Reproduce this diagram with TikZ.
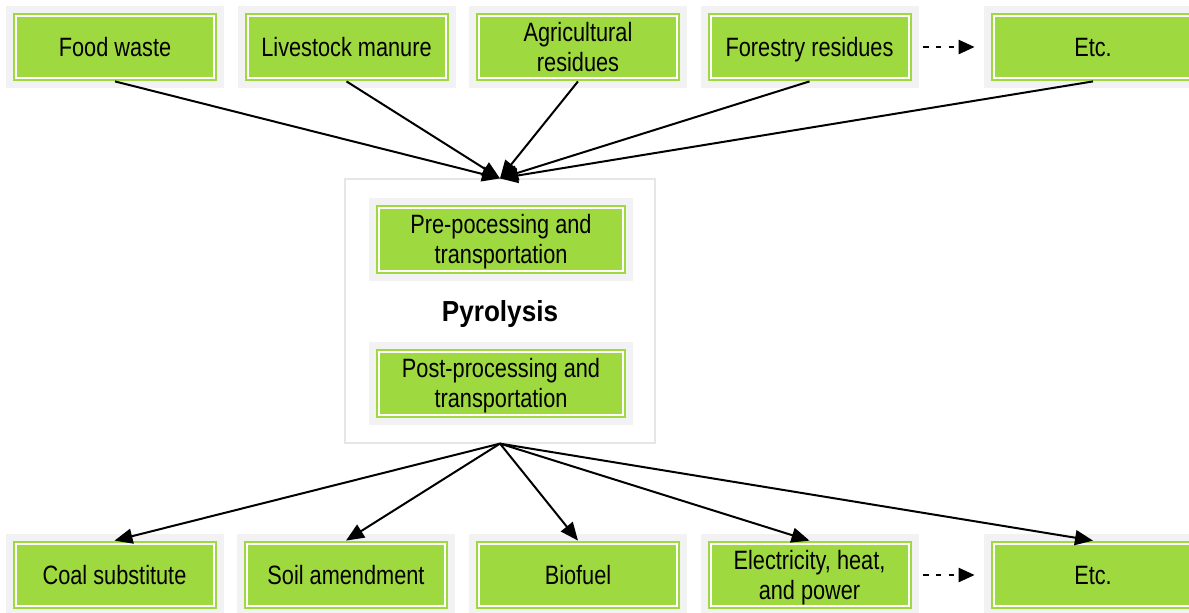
\documentclass[tikz,border=0pt]{standalone}
\usepackage{fontspec}
\setmainfont[FakeStretch=0.82]{Liberation Sans}
\newfontfamily\titlefont[FakeStretch=0.9]{Liberation Sans}
\usetikzlibrary{arrows.meta, positioning}

\definecolor{boxgreen}{RGB}{158,217,64}
\definecolor{panelgray}{RGB}{242,242,242}
\definecolor{framegray}{RGB}{230,230,230}

\tikzset{
  greenbox/.style={rectangle, fill=boxgreen, minimum width=102pt, minimum height=34pt,
    inner sep=0pt, align=center, text depth=0pt, font=\fontsize{13.25}{15}\selectfont,
    preaction={draw=panelgray, line width=7pt},
    path picture={\draw[white, line width=1pt]
      ([shift={(1.5pt,1.5pt)}]path picture bounding box.south west) rectangle
      ([shift={(-1.5pt,-1.5pt)}]path picture bounding box.north east);}},
  widebox/.style={greenbox, minimum width=125pt, minimum height=34.5pt},
  flow/.style={-{Triangle[length=9pt,width=7.5pt]}, line width=1pt},
  more/.style={-{Triangle[length=8pt,width=7pt]}, line width=1.3pt,
    dash pattern=on 2.8pt off 3.6pt, shorten <=5.5pt, shorten >=8pt}
}

\begin{document}
\begin{tikzpicture}[x=0.5pt, y=-0.5pt]
  \useasboundingbox (0,0) rectangle (1189,612);

  \node[greenbox] (food) at (115,47) {Food waste};
  \node[greenbox] (manure) at (346.5,47) {Livestock manure};
  \node[greenbox] (agri) at (578,47) {Agricultural\\residues};
  \node[greenbox] (forest) at (809.5,47) {Forestry residues};
  \node[greenbox] (moreIn) at (1093,47) {Etc.};

  \node[draw=framegray, line width=0.6pt, minimum width=155pt, minimum height=132pt,
    text depth=0pt, font=\titlefont\bfseries\fontsize{14.5}{17}\selectfont] (pyro) at (500,311) {Pyrolysis};
  \node[widebox] (pre) at (501,239) {Pre-pocessing and\\transportation};
  \node[widebox] (post) at (501,383) {Post-processing and\\transportation};

  \node[greenbox] (coal) at (114.5,575) {Coal substitute};
  \node[greenbox] (soil) at (346,575) {Soil amendment};
  \node[greenbox] (fuel) at (578,575) {Biofuel};
  \node[greenbox] (power) at (809.5,575) {Electricity, heat,\\and power};
  \node[greenbox] (moreOut) at (1093,575) {Etc.};

  \draw[flow] (food.south) -- (pyro.north);
  \draw[flow] (manure.south) -- (pyro.north);
  \draw[flow] (agri.south) -- (pyro.north);
  \draw[flow] (forest.south) -- (pyro.north);
  \draw[flow] (moreIn.south) -- (pyro.north);

  \draw[flow] (pyro.south) -- (coal.north);
  \draw[flow] (pyro.south) -- (soil.north);
  \draw[flow] (pyro.south) -- (fuel.north);
  \draw[flow] (pyro.south) -- (power.north);
  \draw[flow] (pyro.south) -- (moreOut.north);

  \draw[more] (forest.east) -- (moreIn.west);
  \draw[more] (power.east) -- (moreOut.west);
\end{tikzpicture}
\end{document}
